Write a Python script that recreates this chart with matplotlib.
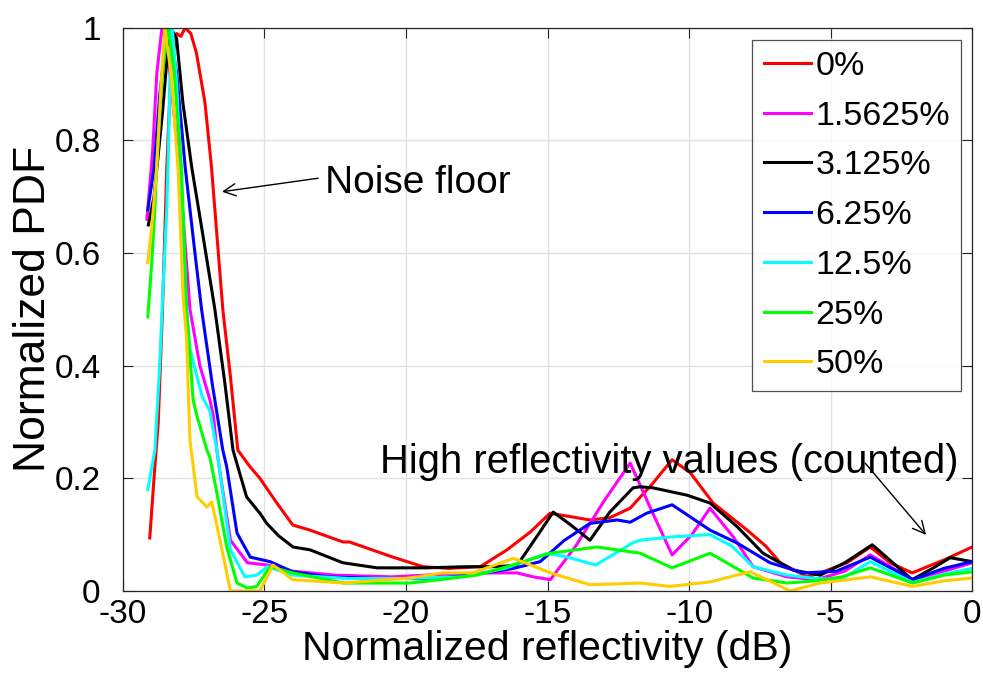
import matplotlib
matplotlib.use("Agg")
import matplotlib.pyplot as plt
from matplotlib.ticker import FixedLocator, FuncFormatter

plt.rcParams["font.family"] = ["Liberation Sans", "DejaVu Sans"]
plt.rcParams["axes.unicode_minus"] = False

# Normalized PDF of reflectivity for each fraction of bright pixels
labels = ["0%", "1.5625%", "3.125%", "6.25%", "12.5%", "25%", "50%"]
colors = ["#ff0000", "#ff00ff", "#000000", "#0000ff", "#00ffff", "#00ff00", "#ffcc00"]

x_0 = [-29.05, -28.9, -28.75, -28.6, -28.45, -28.3, -28.1, -27.95, -27.8, -27.6, -27.4, -27.1,
       -26.87, -26.47, -26.2, -25.94, -25.5, -25.16, -24.56, -24.0, -23.39, -22.23, -22.0,
       -20.46, -19.4, -18.5, -17.38, -16.43, -15.6, -14.91, -14.2, -13.5, -12.8, -12.08,
       -11.3, -10.6, -9.96, -9.15, -8.5, -7.95, -7.3, -6.78, -5.83, -5.37, -4.42, -3.6,
       -2.9, -2.12, -1.0, 0.0]
y_0 = [0.094, 0.2, 0.3, 0.5, 0.75, 0.93, 0.99, 0.985, 1.0, 0.99, 0.955, 0.867,
       0.753, 0.5, 0.38, 0.25, 0.22, 0.2, 0.156, 0.117, 0.108, 0.087, 0.087,
       0.06, 0.043, 0.04, 0.043, 0.073, 0.105, 0.138, 0.132, 0.126, 0.13, 0.147,
       0.19, 0.233, 0.21, 0.156, 0.13, 0.108, 0.08, 0.05, 0.025, 0.032, 0.05, 0.078,
       0.05, 0.032, 0.055, 0.078]

x_1 = [-29.15, -28.95, -28.8, -28.62, -28.45, -28.3, -28.0, -27.63, -27.28, -26.93,
       -26.8, -26.68, -26.57, -26.2, -25.6, -24.9, -24.0, -22.5, -20.5, -18.5, -17.0,
       -16.08, -15.5, -14.9, -14.0, -13.0, -12.08, -11.3, -10.6, -9.9, -9.26, -8.44,
       -7.74, -6.54, -5.5, -4.5, -3.6, -2.1, -1.0, 0.0]
y_1 = [0.66, 0.78, 0.92, 1.0, 0.97, 0.9, 0.75, 0.5, 0.4, 0.34,
       0.31, 0.25, 0.21, 0.09, 0.05, 0.046, 0.035, 0.028, 0.025, 0.03, 0.032,
       0.032, 0.025, 0.02, 0.08, 0.16, 0.227, 0.14, 0.064, 0.1, 0.147, 0.096,
       0.043, 0.025, 0.02, 0.035, 0.064, 0.02, 0.035, 0.05]

x_2 = [-29.1, -28.9, -28.6, -28.4, -28.3, -28.1, -27.88, -27.57, -27.2, -26.75, -26.4,
       -26.11, -25.63, -25.16, -24.92, -24.5, -23.99, -23.39, -22.23, -21.02, -19.26,
       -17.9, -17.03, -16.08, -15.4, -14.8, -14.2, -13.5, -12.8, -11.98, -11.73, -11.27,
       -10.07, -9.26, -8.3, -7.39, -6.33, -5.37, -4.5, -3.53, -2.12, -1.4, -0.78, 0.0]
y_2 = [0.65, 0.7, 0.85, 0.97, 1.0, 0.98, 0.867, 0.753, 0.64, 0.5, 0.37,
       0.25, 0.167, 0.138, 0.12, 0.098, 0.078, 0.073, 0.05, 0.041, 0.041,
       0.043, 0.043, 0.045, 0.095, 0.14, 0.118, 0.09, 0.14, 0.183, 0.185, 0.183,
       0.17, 0.156, 0.114, 0.067, 0.037, 0.028, 0.05, 0.082, 0.02, 0.04, 0.059, 0.052]

x_3 = [-29.12, -28.9, -28.7, -28.45, -28.3, -28.1, -27.8, -27.5, -27.22, -26.85, -26.47,
       -26.33, -25.97, -25.5, -24.8, -24.0, -22.8, -21.0, -19.0, -17.5, -16.2, -15.26,
       -14.4, -13.5, -12.54, -12.08, -11.5, -10.6, -9.26, -8.3, -7.14, -5.97, -4.8, -3.6,
       -2.1, -1.0, 0.0]
y_3 = [0.677, 0.75, 0.88, 0.99, 0.98, 0.92, 0.753, 0.62, 0.5, 0.37, 0.25,
       0.22, 0.103, 0.06, 0.052, 0.034, 0.025, 0.022, 0.022, 0.03, 0.04, 0.052,
       0.09, 0.12, 0.126, 0.122, 0.138, 0.153, 0.108, 0.085, 0.05, 0.032, 0.035, 0.06,
       0.02, 0.04, 0.052]

x_4 = [-29.12, -28.87, -28.7, -28.6, -28.45, -28.4, -28.34, -28.27, -28.1, -28.0, -27.75,
       -27.63, -27.2, -26.93, -26.68, -26.57, -26.2, -25.69, -25.27, -24.9, -24.0, -22.0,
       -20.0, -18.0, -16.5, -15.0, -14.3, -13.3, -12.0, -11.73, -10.6, -9.26, -8.5, -7.74,
       -6.54, -5.5, -4.66, -3.6, -2.1, -1.0, 0.0]
y_4 = [0.18, 0.25, 0.4, 0.517, 0.677, 0.766, 0.9, 1.01, 0.9, 0.8, 0.5,
       0.43, 0.345, 0.32, 0.25, 0.21, 0.073, 0.025, 0.028, 0.043, 0.028, 0.022,
       0.022, 0.025, 0.04, 0.067, 0.06, 0.046, 0.085, 0.09, 0.096, 0.1, 0.08, 0.043,
       0.028, 0.022, 0.02, 0.052, 0.015, 0.03, 0.04]

x_5 = [-29.12, -28.98, -28.87, -28.8, -28.6, -28.41, -28.2, -27.93, -27.75, -27.52, -27.38,
       -27.03, -26.93, -26.68, -26.33, -25.97, -25.6, -25.27, -24.8, -24.0, -22.2, -19.86,
       -18.8, -17.5, -16.43, -14.9, -13.25, -11.73, -10.6, -9.26, -7.74, -6.54, -5.5, -4.6,
       -3.6, -2.1, -1.0, 0.0]
y_5 = [0.487, 0.583, 0.677, 0.766, 0.92, 1.0, 0.93, 0.75, 0.5, 0.34, 0.31,
       0.25, 0.238, 0.174, 0.078, 0.014, 0.005, 0.008, 0.043, 0.032, 0.014, 0.014,
       0.02, 0.028, 0.043, 0.067, 0.078, 0.067, 0.041, 0.067, 0.023, 0.014, 0.018, 0.025,
       0.041, 0.014, 0.028, 0.034]

x_6 = [-29.12, -28.98, -28.8, -28.65, -28.52, -28.3, -28.05, -27.87, -27.75, -27.63, -27.38,
       -27.03, -26.86, -26.57, -26.2, -25.9, -25.5, -25.16, -24.7, -24.0, -22.2, -19.86,
       -18.7, -17.63, -16.2, -14.9, -13.5, -11.73, -10.67, -9.26, -7.84, -6.43, -5.37, -3.6,
       -2.1, -1.0, 0.0]
y_6 = [0.583, 0.647, 0.753, 0.9, 1.0, 0.92, 0.75, 0.52, 0.45, 0.268, 0.167,
       0.149, 0.158, 0.09, 0.0, 0.0, 0.0, 0.0, 0.046, 0.02, 0.014, 0.023,
       0.032, 0.032, 0.058, 0.032, 0.011, 0.014, 0.008, 0.016, 0.034, 0.0, 0.014, 0.025,
       0.008, 0.018, 0.023]

series_x = [x_0, x_1, x_2, x_3, x_4, x_5, x_6]
series_y = [y_0, y_1, y_2, y_3, y_4, y_5, y_6]

x_ticks = [-30, -25, -20, -15, -10, -5, 0]
y_ticks = [0, 0.2, 0.4, 0.6, 0.8, 1.0]

fig = plt.figure(figsize=(9.83, 6.80), dpi=100)
ax = fig.add_axes([0.125, 0.131, 0.864, 0.828])

for xs, ys, lab, col in zip(series_x, series_y, labels, colors):
    ax.plot(xs, ys, color=col, lw=2.2, label=lab, solid_joinstyle="round")

ax.set_xlim(-30, 0)
ax.set_ylim(0, 1)
ax.xaxis.set_major_locator(FixedLocator(x_ticks))
ax.yaxis.set_major_locator(FixedLocator(y_ticks))
ax.yaxis.set_major_formatter(FuncFormatter(lambda v, p: "%g" % v))
ax.xaxis.set_major_formatter(FuncFormatter(lambda v, p: "%g" % v))
ax.grid(True, color="#e1e1e1", lw=1.0)
ax.set_axisbelow(True)
ax.tick_params(direction="in", top=True, right=True, length=7, width=0.8,
               labelsize=24, colors="#262626", labelcolor="black", pad=6)
ax.tick_params(axis="y", pad=16)
for sp in ax.spines.values():
    sp.set_color("#262626")
    sp.set_linewidth(0.9)

ax.set_xlabel("Normalized reflectivity (dB)", fontsize=29.5, labelpad=0)
ax.set_ylabel("Normalized PDF", fontsize=32, labelpad=0)

ax.annotate("Noise floor", xy=(-22.86, 0.725), fontsize=28, va="center", ha="left")
ax.annotate("", xy=(-26.5, 0.709), xytext=(-23.1, 0.733),
            arrowprops=dict(arrowstyle="->", color="black", lw=1.0,
                            shrinkA=0, shrinkB=0, mutation_scale=22))
ax.annotate("High reflectivity values (counted)", xy=(-20.92, 0.229),
            fontsize=28.8, va="center", ha="left")
ax.annotate("", xy=(-1.63, 0.0995), xytext=(-3.78, 0.227),
            arrowprops=dict(arrowstyle="->", color="black", lw=1.0,
                            shrinkA=0, shrinkB=0, mutation_scale=22))

leg = ax.legend(loc="upper right", bbox_to_anchor=(0.987, 0.979), borderaxespad=0,
                fontsize=24.5, handlelength=1.4, handletextpad=0.12, labelspacing=0.55,
                frameon=True, fancybox=False, edgecolor="#262626", borderpad=0.33)
leg.get_frame().set_linewidth(0.9)

fig.savefig("out.png", dpi=100, facecolor="white")
